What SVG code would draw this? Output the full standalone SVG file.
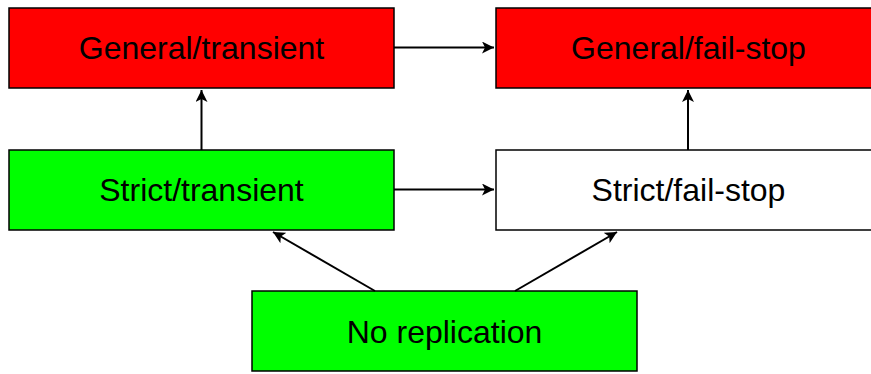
<svg xmlns="http://www.w3.org/2000/svg" width="871" height="374" viewBox="0 0 871 374">
<style>
.box{stroke:#000;stroke-width:1.5}
.lbl{font-family:"Liberation Sans",Arial,sans-serif;font-size:32px;fill:#000;text-anchor:middle}
.edge{stroke:#000;stroke-width:2;fill:none;marker-end:url(#ah)}
</style>
<defs>
<marker id="ah" markerUnits="userSpaceOnUse" markerWidth="14" markerHeight="12" refX="12" refY="6" orient="auto">
<path d="M0,0 L12,6 L0,12 L3,6 Z" fill="#000"/>
</marker>
</defs>
<rect width="871" height="374" fill="#fff"/>
<g id="general-transient">
<rect class="box" x="9" y="8" width="385" height="80" fill="#ff0000"/>
<text class="lbl" x="201.5" y="59">General/transient</text>
</g>
<g id="general-failstop">
<rect class="box" x="496" y="8" width="385" height="80" fill="#ff0000"/>
<text class="lbl" x="688.5" y="59">General/fail-stop</text>
</g>
<g id="strict-transient">
<rect class="box" x="9" y="150" width="385" height="80" fill="#00ff00"/>
<text class="lbl" x="201.5" y="201">Strict/transient</text>
</g>
<g id="strict-failstop">
<rect class="box" x="496" y="150" width="385" height="80" fill="#ffffff"/>
<text class="lbl" x="688.5" y="201">Strict/fail-stop</text>
</g>
<g id="no-replication">
<rect class="box" x="252" y="291" width="385" height="80" fill="#00ff00"/>
<text class="lbl" x="444.5" y="343">No replication</text>
</g>
<g id="connectors">
<line class="edge" x1="394" y1="47.5" x2="494" y2="47.5"/>
<line class="edge" x1="394" y1="189.5" x2="494" y2="189.5"/>
<line class="edge" x1="201.5" y1="150" x2="201.5" y2="90"/>
<line class="edge" x1="688" y1="150" x2="688" y2="90"/>
<line class="edge" x1="375" y1="291" x2="273" y2="232"/>
<line class="edge" x1="515" y1="291" x2="617" y2="232"/>
</g>
</svg>
